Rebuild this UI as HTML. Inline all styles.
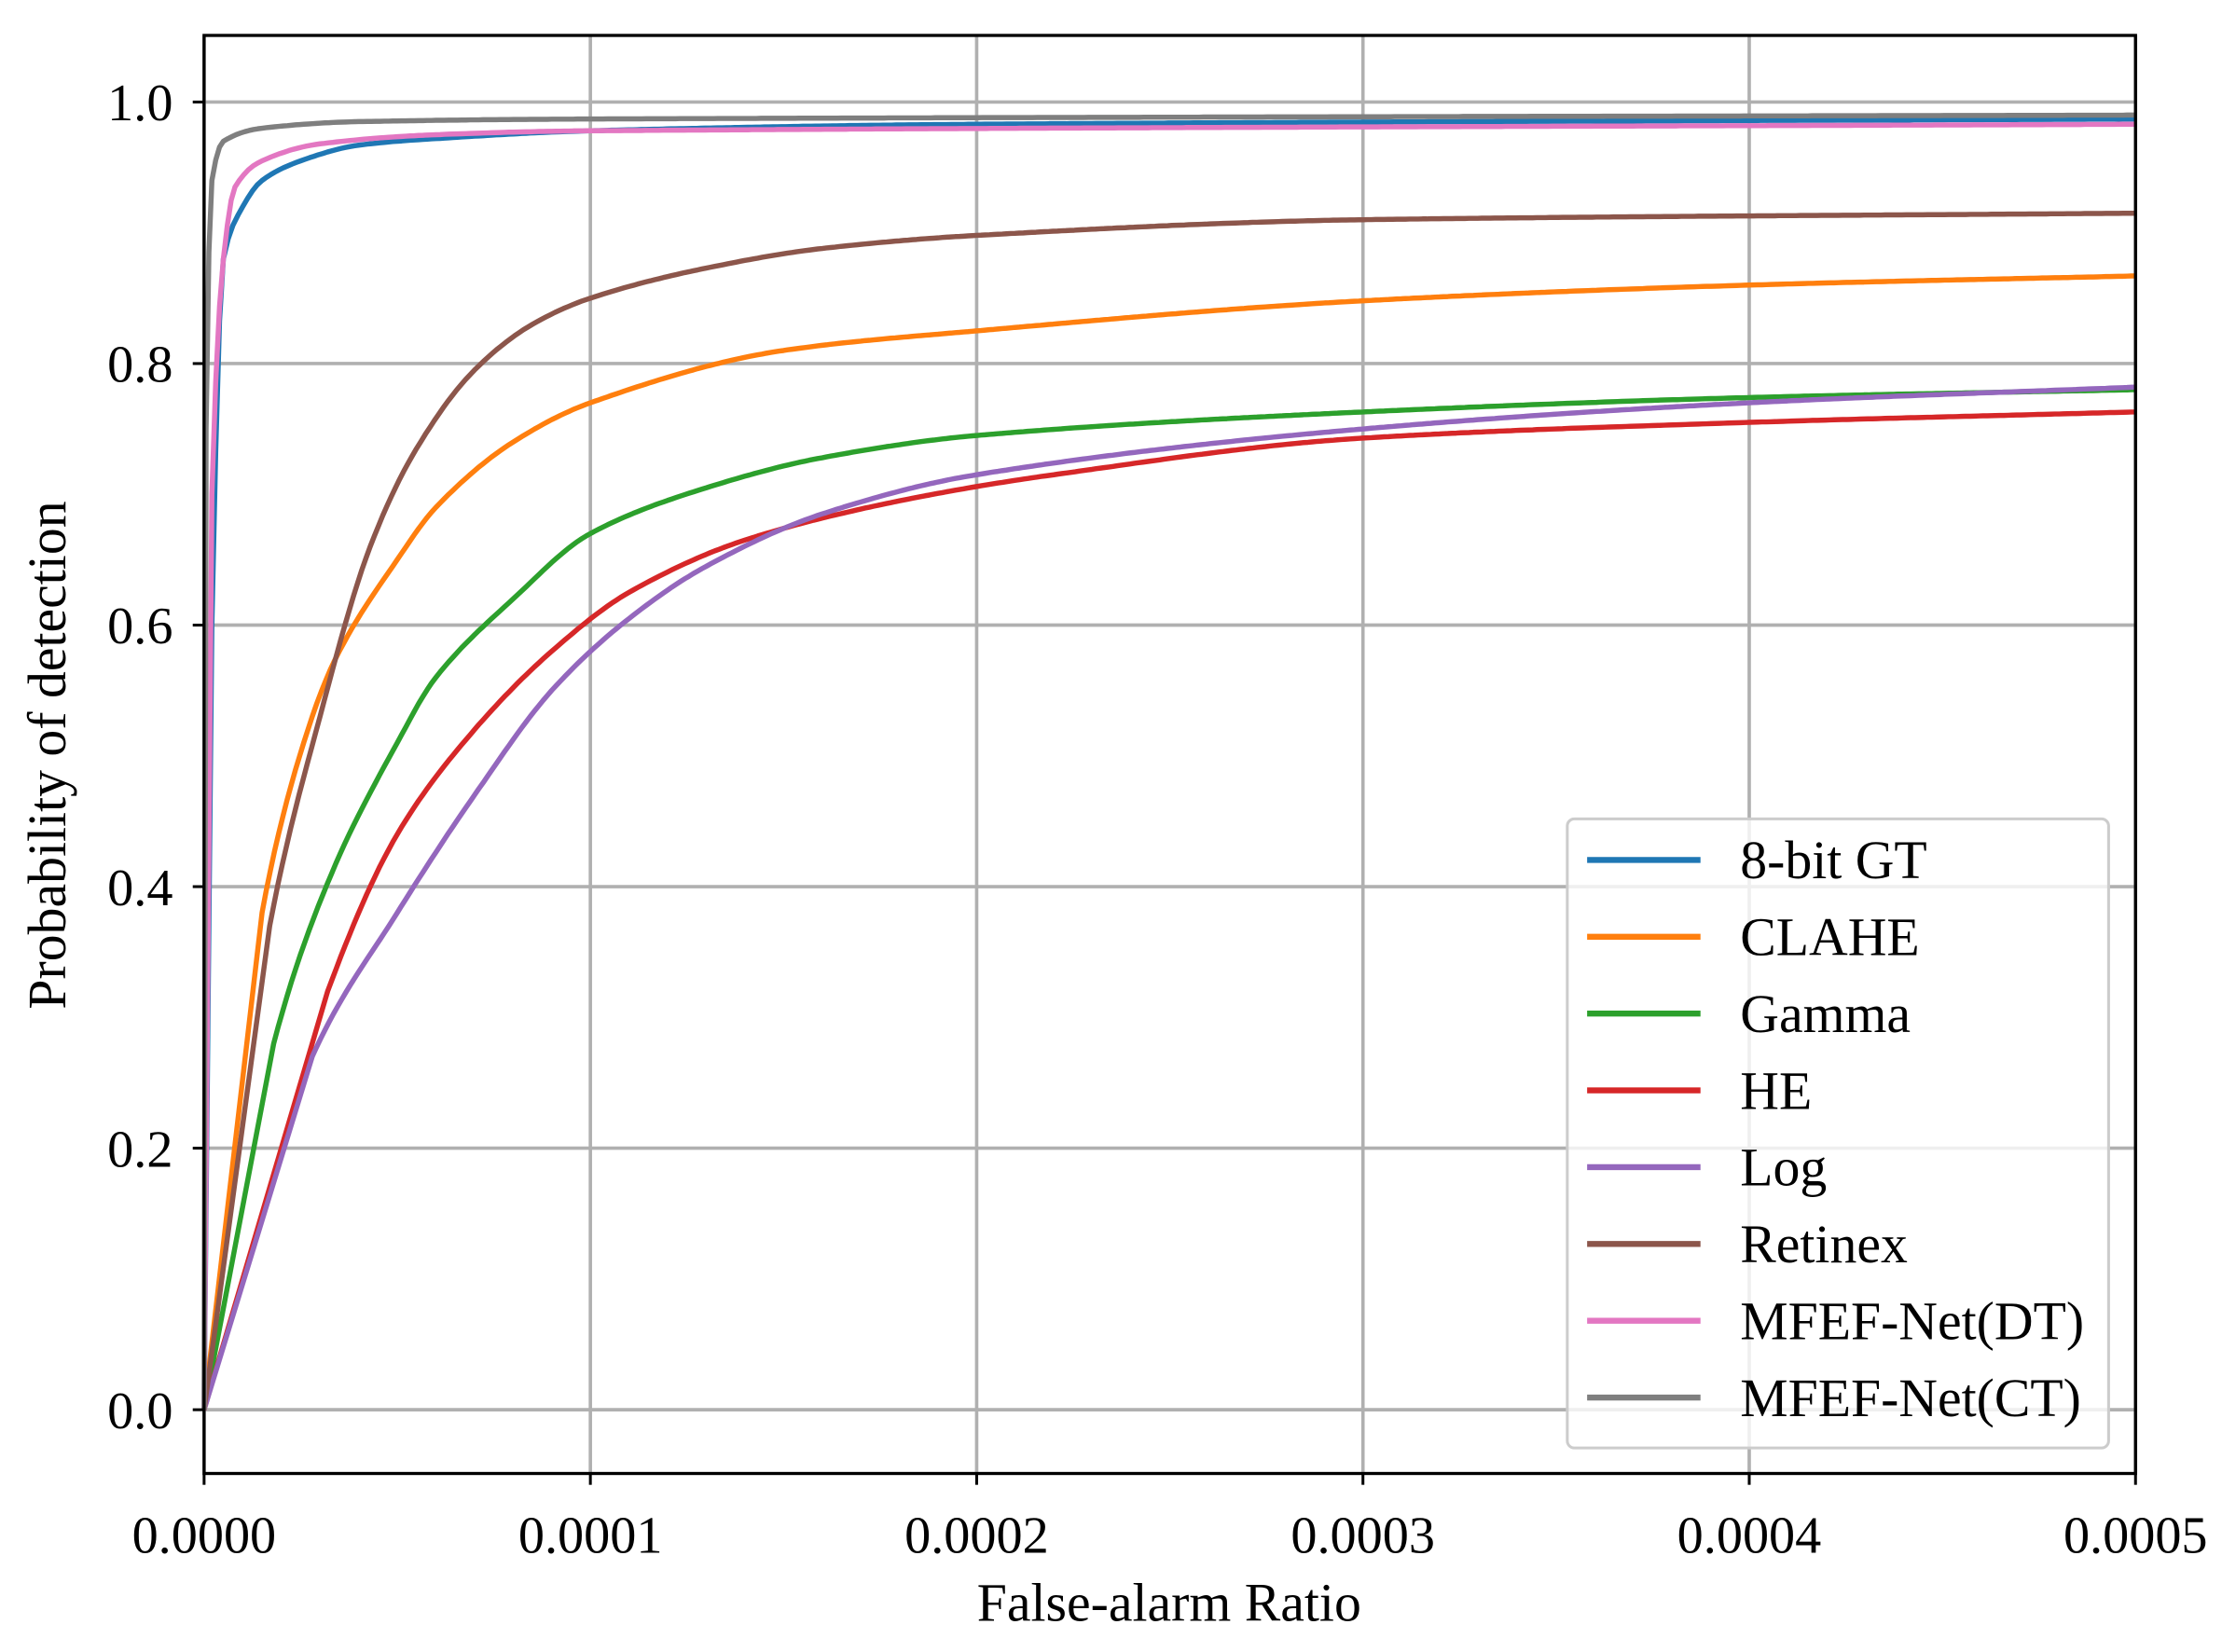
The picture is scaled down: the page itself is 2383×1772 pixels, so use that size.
<!DOCTYPE html>
<html><head><meta charset="utf-8"><style>html,body{margin:0;padding:0;background:#fff}svg{display:block}</style></head>
<body>
<svg id="s" width="2383" height="1772" viewBox="0 0 1568 1166" xmlns="http://www.w3.org/2000/svg" font-family="'Liberation Serif', serif">
<rect width="1568" height="1166" fill="#fff"/>
<g id="grid" stroke="#b0b0b0" stroke-width="2.4"></g>
<g id="curves" fill="none" stroke-width="3.6"></g>
<rect x="144" y="25" width="1363" height="1015" fill="none" stroke="#000" stroke-width="2.2"/>
<g id="ticks" font-size="37" fill="#000"></g>
<text x="825" y="1144" font-size="38" text-anchor="middle">False-alarm Ratio</text>
<text transform="translate(46,533) rotate(-90)" font-size="38" text-anchor="middle">Probability of detection</text>
<g id="legend"><rect x="1106" y="578" width="382" height="444" rx="5" fill="#fff" fill-opacity="0.8" stroke="#ccc" stroke-width="2"/></g>
</svg>
<script>
const NS="http://www.w3.org/2000/svg";
const X=f=>144+272.6*f, Y=v=>995-923*v;
function el(p,t,a,txt){const e=document.createElementNS(NS,t);for(const k in a)e.setAttribute(k,a[k]);if(txt)e.textContent=txt;p.appendChild(e);return e;}
const g=document.getElementById('grid'),tk=document.getElementById('ticks');
for(let i=0;i<=5;i++){const x=X(i);el(g,'line',{x1:x,x2:x,y1:25,y2:1040});el(tk,'line',{x1:x,x2:x,y1:1040,y2:1048,stroke:'#000','stroke-width':2});
el(tk,'text',{x:x,y:1096,'text-anchor':'middle'},'0.000'+i);}
for(let i=0;i<=5;i++){const v=i*0.2,y=Y(v);el(g,'line',{x1:144,x2:1507,y1:y,y2:y});el(tk,'line',{x1:136,x2:144,y1:y,y2:y,stroke:'#000','stroke-width':2});
el(tk,'text',{x:122,y:y+13,'text-anchor':'end'},v.toFixed(1));}
const S=[
['8-bit GT','#1f77b4',[[0,0],[0.02,0.6],[0.05,0.88],[0.1,0.92],[0.15,0.94],[0.25,0.955],[0.4,0.967],[0.6,0.972],[1,0.978],[2,0.983],[5,0.987]]],
['CLAHE','#ff7f0e',[[0,0],[0.15,0.38],[0.28,0.53],[0.35,0.58],[0.5,0.65],[0.6,0.69],[0.8,0.74],[1,0.77],[1.5,0.81],[2,0.825],[3,0.848],[4,0.86],[5,0.867]]],
['Gamma','#2ca02c',[[0,0],[0.18,0.28],[0.33,0.41],[0.5,0.51],[0.6,0.56],[0.8,0.62],[1,0.67],[1.3,0.705],[1.6,0.728],[2,0.745],[3,0.763],[4,0.774],[5,0.78]]],
['HE','#d62728',[[0,0],[0.32,0.32],[0.5,0.44],[0.7,0.52],[0.9,0.58],[1.1,0.625],[1.4,0.665],[1.8,0.695],[2.2,0.715],[3,0.743],[4,0.755],[5,0.763]]],
['Log','#9467bd',[[0,0],[0.28,0.27],[0.5,0.38],[0.7,0.47],[0.9,0.55],[1.1,0.605],[1.3,0.645],[1.6,0.685],[2,0.715],[3,0.75],[4,0.77],[5,0.782]]],
['Retinex','#8c564b',[[0,0],[0.17,0.37],[0.3,0.53],[0.43,0.66],[0.55,0.735],[0.7,0.795],[0.85,0.83],[1,0.85],[1.3,0.873],[1.6,0.888],[2,0.898],[3,0.91],[5,0.915]]],
['MFEF-Net(DT)','#e377c2',[[0,0],[0.02,0.7],[0.05,0.88],[0.08,0.935],[0.15,0.955],[0.3,0.968],[0.6,0.975],[1,0.978],[5,0.983]]],
['MFEF-Net(CT)','#7f7f7f',[[0,0],[0.005,0.75],[0.02,0.94],[0.05,0.97],[0.15,0.98],[0.4,0.985],[1,0.987],[5,0.99]]]];
function mono(P){const n=P.length,d=[],m=[];for(let i=0;i<n-1;i++)d.push((P[i+1][1]-P[i][1])/(P[i+1][0]-P[i][0]));
m[0]=d[0];m[n-1]=d[n-2];for(let i=1;i<n-1;i++){m[i]=(d[i-1]*d[i]<=0)?0:2/(1/d[i-1]+1/d[i]);}
let out=[P[0]];for(let i=1;i<n-1;i++){const h=P[i+1][0]-P[i][0];const N=Math.max(2,Math.ceil(X(P[i+1][0])-X(P[i][0]))/3|0);
for(let k=0;k<N;k++){const t=k/N,t2=t*t,t3=t2*t;const y=(2*t3-3*t2+1)*P[i][1]+(t3-2*t2+t)*h*m[i]+(-2*t3+3*t2)*P[i+1][1]+(t3-t2)*h*m[i+1];
out.push([P[i][0]+t*h,y]);}}out.push(P[n-1]);return out;}
const c=document.getElementById('curves'),L=document.getElementById('legend');
S.forEach((s,i)=>{el(c,'polyline',{points:mono(s[2]).map(p=>X(p[0]).toFixed(1)+','+Y(p[1]).toFixed(1)).join(' '),stroke:s[1],'stroke-linejoin':'round'});
const y=607+54.2*i;el(L,'line',{x1:1120,x2:1200,y1:y,y2:y,stroke:s[1],'stroke-width':4.2});
el(L,'text',{x:1228,y:y+13,'font-size':38},s[0]);});
</script>
</body></html>
